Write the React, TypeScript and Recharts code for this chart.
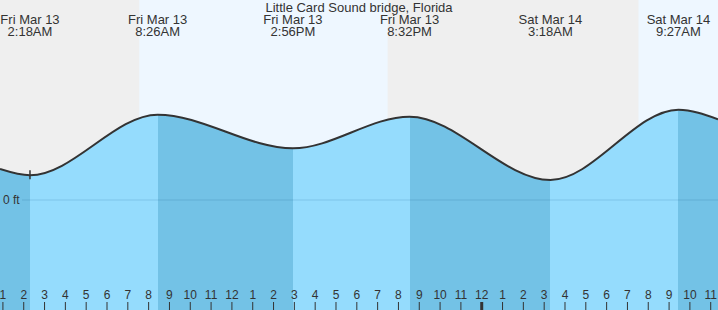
import { AreaChart, Area, XAxis, YAxis, ReferenceArea, ReferenceDot } from 'recharts';

// hours counted from Fri Mar 13, 00:00
const title = 'Little Card Sound bridge, Florida';
const eventDays = ['Fri Mar 13', 'Fri Mar 13', 'Fri Mar 13', 'Fri Mar 13', 'Sat Mar 14', 'Sat Mar 14'];
const eventClock = ['2:18AM', '8:26AM', '2:56PM', '8:32PM', '3:18AM', '9:27AM'];
const eventHours = [2.3, 8.433, 14.933, 20.533, 27.3, 33.45];
const eventFeet = [0.247, 0.853, 0.517, 0.833, 0.2, 0.903];
const edgeHours = [0.86, 35.35];
const edgeFeet = [0.31, 0.807];
const daylight = [
  [7.55, 19.48],
  [31.53, 35.35],
];
const hourTicks = [
  1, 2, 3, 4, 5, 6, 7, 8, 9, 10, 11, 12, 13, 14, 15, 16, 17, 18, 19, 20, 21, 22, 23, 24,
  25, 26, 27, 28, 29, 30, 31, 32, 33, 34, 35,
];
const hourLabels = hourTicks.map((h) => String(h % 12 === 0 ? 12 : h % 12));

const data = [
  { h: edgeHours[0], ft: edgeFeet[0] },
  ...eventHours.map((h, i) => ({ h, ft: eventFeet[i] })),
  { h: edgeHours[1], ft: edgeFeet[1] },
];

const FONT = '"Liberation Sans", Arial, sans-serif';
const RISE = '#95dcfd';
const FALL = '#73c2e6';
const span = edgeHours[1] - edgeHours[0];

function HourTick(props: any) {
  const { x, y, payload, index } = props;
  const midnight = payload.value % 24 === 0;
  return (
    <g>
      <text x={x} y={y - 11} textAnchor="middle" fontSize={12} fontFamily={FONT} fill="#333">
        {hourLabels[index]}
      </text>
      <line x1={x} x2={x} y1={y - 8} y2={y} stroke="#333" strokeWidth={midnight ? 3 : 1} />
    </g>
  );
}

function EventTick(props: any) {
  const { x, index } = props;
  return (
    <text textAnchor="middle" fontSize={13} fontFamily={FONT} fill="#333">
      <tspan x={x} y={24}>{eventDays[index]}</tspan>
      <tspan x={x} y={36}>{eventClock[index]}</tspan>
    </text>
  );
}

function ZeroTick(props: any) {
  const { y } = props;
  return (
    <g>
      <line x1={22} x2={718} y1={y} y2={y} stroke="rgba(0,70,130,0.15)" />
      <text x={3} y={y + 4} fontSize={12} fontFamily={FONT} fill="#333">
        0 ft
      </text>
    </g>
  );
}

export default function App() {
  return (
    <div style={{ position: 'absolute', left: 0, top: 0, width: 718, height: 310, overflow: 'hidden' }}>
      <AreaChart
        width={718}
        height={310}
        data={data}
        margin={{ top: -1, right: 0, bottom: -1, left: -1 }}
        style={{ background: '#efefef' }}
      >
        <defs>
          <linearGradient id="tideFill" x1="0" y1="0" x2="1" y2="0">
            {data.slice(0, -1).flatMap((d, i) => {
              const next = data[i + 1];
              const c = next.ft > d.ft ? RISE : FALL;
              return [
                <stop key={`a${i}`} offset={(d.h - edgeHours[0]) / span} stopColor={c} />,
                <stop key={`b${i}`} offset={(next.h - edgeHours[0]) / span} stopColor={c} />,
              ];
            })}
          </linearGradient>
        </defs>
        <XAxis
          dataKey="h"
          type="number"
          domain={[edgeHours[0], edgeHours[1]]}
          ticks={hourTicks}
          interval={0}
          height={1}
          axisLine={false}
          tickLine={false}
          tickSize={0}
          tickMargin={0}
          tick={<HourTick />}
          allowDataOverflow
        />
        <XAxis
          xAxisId="top"
          dataKey="h"
          orientation="top"
          type="number"
          domain={[edgeHours[0], edgeHours[1]]}
          ticks={eventHours}
          interval={0}
          height={1}
          axisLine={false}
          tickLine={false}
          tick={<EventTick />}
          allowDataOverflow
        />
        <YAxis
          type="number"
          domain={[-1.1, 2.0]}
          ticks={[0]}
          interval={0}
          width={1}
          axisLine={false}
          tickLine={false}
          tick={<ZeroTick />}
          allowDataOverflow
        />
        {daylight.map(([a, b], i) => (
          <ReferenceArea key={i} x1={a} x2={b} fill="#eef7ff" fillOpacity={1} stroke="none" />
        ))}
        <Area
          type="monotoneX"
          dataKey="ft"
          baseValue="dataMin"
          stroke="#333"
          strokeWidth={2}
          fill="url(#tideFill)"
          fillOpacity={1}
          dot={false}
          activeDot={false}
          isAnimationActive={false}
        />
        <ReferenceDot
          x={eventHours[0]}
          y={eventFeet[0]}
          shape={(p: any) => (
            <line x1={p.cx} x2={p.cx} y1={p.cy - 5} y2={p.cy + 4} stroke="#333" strokeWidth={1.5} />
          )}
        />
      </AreaChart>
      <div
        style={{
          position: 'absolute',
          left: 0,
          top: 0,
          width: 718,
          textAlign: 'center',
          fontFamily: FONT,
          fontSize: 13,
          color: '#333',
          pointerEvents: 'none',
        }}
      >
        {title}
      </div>
    </div>
  );
}
